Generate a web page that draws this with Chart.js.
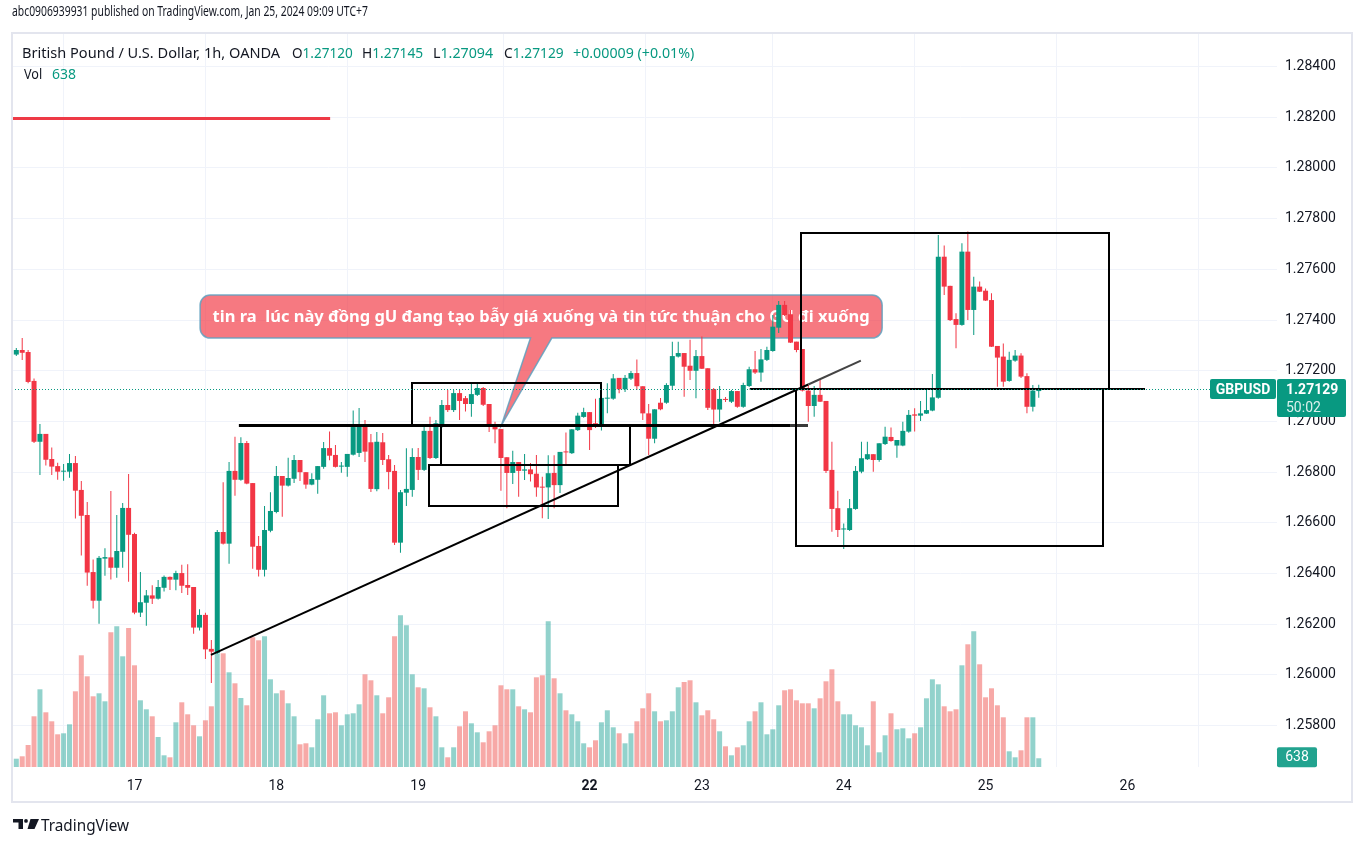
<!DOCTYPE html>
<html><head><meta charset="utf-8">
<script src="https://cdn.jsdelivr.net/npm/chart.js@4.4.1/dist/chart.umd.min.js"></script>
<style>
html,body{margin:0;padding:0;background:#fff;width:1364px;height:846px;overflow:hidden;}
#wrap{position:relative;width:1364px;height:846px;}
canvas{position:absolute;left:0;top:0;}
.t{position:absolute;white-space:nowrap;font-family:'Noto Sans','Liberation Sans',Arial,sans-serif;color:#131722;transform-origin:0 50%;line-height:1;font-size:14px;}
.g{color:#089981;}
#logo{position:absolute;left:13px;top:819px;}
</style></head><body>
<div id="wrap">
<canvas id="c" width="1364" height="846"></canvas>
<div class="t" data-w="356" style="left:12px;top:4px;">abc0906939931 published on TradingView.com, Jan 25, 2024 09:09 UTC+7</div>
<div class="t" data-w="258" style="left:22px;top:46px;">British Pound / U.S. Dollar, 1h, OANDA</div>
<div class="t" data-w="61" style="left:292px;top:46px;">O<span class="g">1.27120</span></div>
<div class="t" data-w="61" style="left:362px;top:46px;">H<span class="g">1.27145</span></div>
<div class="t" data-w="60" style="left:433px;top:46px;">L<span class="g">1.27094</span></div>
<div class="t" data-w="60" style="left:504px;top:46px;">C<span class="g">1.27129</span></div>
<div class="t g" data-w="121" style="left:573px;top:46px;">+0.00009 (+0.01%)</div>
<div class="t" data-w="18" style="left:24px;top:67px;">Vol</div>
<div class="t g" data-w="24" style="left:52px;top:67px;">638</div>
<svg id="logo" width="26" height="10" viewBox="0 0 26 10"><path d="M0 0H10V10H5.5V3.6H0Z" fill="#131722"/><circle cx="13" cy="1.9" r="1.9" fill="#131722"/><path d="M17.5 0H26L21.5 10H14.5Z" fill="#131722"/></svg>
<div class="t" data-w="88" style="left:41px;top:817px;font-size:16px;">TradingView</div>
</div>
<script>
// ---------- data (GBPUSD 1h, OANDA) ----------
const dayTickIndex = [20, 44, 68, 97, 116, 140, 164, 188];
const dayTickLabel = ['17', '18', '19', '22', '23', '24', '25', '26'];
const priceTicks = [1.258, 1.260, 1.262, 1.264, 1.266, 1.268, 1.270, 1.272, 1.274, 1.276, 1.278, 1.280, 1.282, 1.284];

const opens = [
1.27264,1.27282,1.27274,1.27160,1.26920,1.26951,1.26852,1.26824,1.26802,1.26802,
1.26836,1.26730,1.26631,1.26406,1.26293,1.26459,1.26464,1.26423,1.26486,1.26659,
1.26556,1.26246,1.26285,1.26314,1.26301,1.26344,1.26387,1.26376,1.26402,1.26355,
1.26347,1.26187,1.26237,1.26103,1.26086,1.26564,1.26518,1.26805,1.26770,1.26915,
1.26757,1.26509,1.26415,1.26569,1.26643,1.26785,1.26747,1.26774,1.26848,1.26800,
1.26751,1.26770,1.26821,1.26895,1.26868,1.26822,1.26821,1.26869,1.26876,1.26982,
1.26918,1.26733,1.26918,1.26851,1.26805,1.26522,1.26719,1.26730,1.26860,1.26809,
1.26963,1.26856,1.26983,1.27065,1.27045,1.27112,1.27092,1.27069,1.27105,1.27132,
1.27069,1.26990,1.26970,1.26859,1.26797,1.26840,1.26806,1.26811,1.26794,1.26742,
1.26740,1.26797,1.26749,1.26881,1.26875,1.26966,1.27018,1.27037,1.26993,1.26986,
1.27090,1.27090,1.27172,1.27127,1.27169,1.27191,1.27139,1.27032,1.26932,1.27074,
1.27074,1.27141,1.27256,1.27270,1.27220,1.27200,1.27258,1.27210,1.27128,1.27047,
1.27089,1.27078,1.27120,1.27058,1.27140,1.27206,1.27193,1.27243,1.27278,1.27370,
1.27460,1.27423,1.27315,1.27286,1.27122,1.27061,1.27105,1.27081,1.26809,1.26658,
1.26574,1.26572,1.26655,1.26802,1.26851,1.26871,1.26848,1.26911,1.26939,1.26905,
1.26905,1.26960,1.27028,1.27023,1.27031,1.27043,1.27094,1.27650,1.27535,1.27404,
1.27381,1.27670,1.27440,1.27532,1.27516,1.27479,1.27298,1.27256,1.27160,1.27240,
1.27260,1.27179,1.27058,1.27120];

const highs = [
1.27290,1.27329,1.27282,1.27170,1.26990,1.26951,1.26897,1.26837,1.26832,1.26872,
1.26864,1.26765,1.26682,1.26456,1.26469,1.26500,1.26726,1.26631,1.26678,1.26793,
1.26561,1.26406,1.26335,1.26354,1.26375,1.26392,1.26388,1.26411,1.26435,1.26437,
1.26347,1.26259,1.26245,1.26138,1.26572,1.26760,1.26840,1.26940,1.26938,1.26923,
1.26757,1.26548,1.26667,1.26721,1.26824,1.26785,1.26857,1.26868,1.26848,1.26800,
1.26796,1.26824,1.26919,1.26960,1.26907,1.26840,1.26872,1.27043,1.27053,1.27006,
1.26951,1.26959,1.26955,1.26868,1.26828,1.26730,1.26894,1.26894,1.26895,1.26986,
1.27019,1.27006,1.27085,1.27124,1.27124,1.27124,1.27101,1.27148,1.27151,1.27136,
1.27069,1.26999,1.26970,1.26859,1.26885,1.26840,1.26872,1.26836,1.26868,1.26782,
1.26867,1.26867,1.26880,1.26957,1.26970,1.27034,1.27054,1.27037,1.27090,1.27093,
1.27151,1.27187,1.27172,1.27183,1.27199,1.27245,1.27139,1.27069,1.27048,1.27093,
1.27151,1.27315,1.27315,1.27270,1.27322,1.27282,1.27335,1.27210,1.27132,1.27140,
1.27097,1.27124,1.27120,1.27153,1.27216,1.27278,1.27286,1.27295,1.27420,1.27475,
1.27475,1.27440,1.27315,1.27286,1.27144,1.27140,1.27166,1.27081,1.26920,1.26727,
1.26598,1.26694,1.26824,1.26920,1.26920,1.26871,1.26914,1.26979,1.26976,1.26927,
1.26999,1.27045,1.27052,1.27081,1.27127,1.27187,1.27736,1.27694,1.27535,1.27427,
1.27703,1.27749,1.27571,1.27552,1.27525,1.27506,1.27298,1.27308,1.27275,1.27282,
1.27269,1.27190,1.27144,1.27145];

const lows = [
1.27258,1.27243,1.27151,1.26915,1.26789,1.26826,1.26789,1.26770,1.26766,1.26778,
1.26617,1.26471,1.26352,1.26262,1.26202,1.26391,1.26377,1.26384,1.26423,1.26368,
1.26240,1.26229,1.26194,1.26280,1.26298,1.26329,1.26335,1.26334,1.26323,1.26316,
1.26163,1.26175,1.26063,1.25968,1.26083,1.26515,1.26439,1.26707,1.26766,1.26752,
1.26419,1.26388,1.26388,1.26563,1.26638,1.26624,1.26744,1.26757,1.26765,1.26735,
1.26748,1.26715,1.26814,1.26847,1.26818,1.26798,1.26782,1.26866,1.26860,1.26840,
1.26722,1.26725,1.26828,1.26733,1.26513,1.26482,1.26667,1.26703,1.26769,1.26805,
1.26852,1.26852,1.26974,1.27037,1.27037,1.27006,1.27039,1.27019,1.27101,1.27061,
1.26959,1.26914,1.26727,1.26658,1.26753,1.26703,1.26769,1.26763,1.26703,1.26618,
1.26615,1.26658,1.26718,1.26824,1.26872,1.26962,1.27015,1.26888,1.26974,1.26964,
1.27032,1.27086,1.27111,1.27116,1.27164,1.27124,1.27006,1.26868,1.26914,1.27044,
1.27070,1.27124,1.27252,1.27098,1.27164,1.27092,1.27207,1.27045,1.26982,1.26999,
1.27077,1.27073,1.27054,1.27054,1.27136,1.27187,1.27157,1.27239,1.27275,1.27349,
1.27416,1.27310,1.27273,1.27118,1.26999,1.27019,1.27077,1.26797,1.26565,1.26544,
1.26497,1.26568,1.26652,1.26796,1.26848,1.26802,1.26841,1.26907,1.26920,1.26857,
1.26902,1.26956,1.26960,1.27002,1.27030,1.27040,1.27090,1.27499,1.27396,1.27289,
1.27378,1.27400,1.27341,1.27511,1.27475,1.27294,1.27137,1.27137,1.27157,1.27236,
1.27172,1.27032,1.27039,1.27094];

const closes = [
1.27282,1.27271,1.27156,1.26920,1.26951,1.26849,1.26822,1.26802,1.26805,1.26836,
1.26727,1.26628,1.26404,1.26293,1.26462,1.26465,1.26423,1.26489,1.26659,1.26553,
1.26246,1.26287,1.26314,1.26301,1.26347,1.26387,1.26376,1.26402,1.26352,1.26344,
1.26187,1.26237,1.26101,1.26092,1.26564,1.26518,1.26805,1.26770,1.26915,1.26755,
1.26506,1.26415,1.26572,1.26647,1.26785,1.26747,1.26777,1.26848,1.26800,1.26751,
1.26773,1.26824,1.26895,1.26865,1.26821,1.26826,1.26872,1.26978,1.26986,1.26881,
1.26734,1.26920,1.26848,1.26801,1.26522,1.26721,1.26734,1.26860,1.26809,1.26963,
1.26856,1.26993,1.27065,1.27045,1.27112,1.27081,1.27069,1.27108,1.27132,1.27066,
1.26986,1.26969,1.26856,1.26797,1.26840,1.26805,1.26811,1.26792,1.26740,1.26739,
1.26796,1.26749,1.26880,1.26878,1.26969,1.27023,1.27037,1.26966,1.26983,1.27093,
1.27094,1.27170,1.27127,1.27172,1.27191,1.27139,1.27032,1.26932,1.27048,1.27048,
1.27144,1.27258,1.27270,1.27216,1.27200,1.27258,1.27208,1.27054,1.27047,1.27089,
1.27085,1.27120,1.27058,1.27144,1.27206,1.27193,1.27245,1.27282,1.27374,1.27460,
1.27420,1.27311,1.27282,1.27122,1.27061,1.27105,1.27078,1.26805,1.26655,1.26572,
1.26577,1.26658,1.26805,1.26855,1.26871,1.26848,1.26914,1.26940,1.26923,1.26927,
1.26963,1.27026,1.27023,1.27032,1.27045,1.27095,1.27650,1.27532,1.27400,1.27381,
1.27670,1.27440,1.27532,1.27512,1.27477,1.27295,1.27252,1.27157,1.27243,1.27260,
1.27177,1.27058,1.27122,1.27129];

const volumes = [
606,781,1606,3701,5672,3993,3336,2387,2460,3117,
5526,8154,6621,5161,5380,4796,9833,10271,8081,10147,
7424,4869,4212,3701,2190,854,708,3263,4723,3847,
3044,2241,3409,4431,8271,8300,6913,6110,5037,4504,
9468,9249,9541,6402,5380,5599,4650,3701,1657,1730,
1438,3482,5234,3920,3993,3044,3847,3920,4577,6767,
6329,5234,3920,5088,9541,11074,10344,6767,5818,5745,
4358,3701,1438,708,1438,2971,4066,3190,2533,1803,
2606,3044,5964,5672,5672,4431,4212,3993,6548,6694,
10636,6475,5380,4139,3847,3336,1730,1438,1949,3263,
4139,2898,2460,1730,2460,3336,4285,5380,4066,3336,
3409,4066,5818,6205,6329,4723,3774,4139,3482,2606,
1511,854,1438,1584,3336,4066,4723,2387,2752,4504,
5599,5672,4869,4650,4650,4285,5015,6256,7132,4796,
3847,3847,3044,2898,1584,4796,1073,2314,3920,2752,
2825,2095,2460,2898,5015,6402,6037,4431,4066,4212,
7424,8957,9906,7497,5088,5745,4504,3628,1146,708,
1219,3628,3628,638];

const symbolName = 'GBPUSD';
const lastPrice = 1.27129;
const barCountdown = '50:02';

// drawings, in data coordinates (bar index, price)
const redLine = [-0.73, 53.1, 1.28197];
const supportLine = [37.66, 133.96, 1.26985];
const rangeLine = [124.1, 190.98, 1.27128];
const rectangles = [
  [66.9, 98.9, 1.27151, 1.26986],
  [71.8, 103.9, 1.26986, 1.26830],
  [69.8, 101.8, 1.26830, 1.26668],
  [132.8, 184.9, 1.27745, 1.27127],
  [131.9, 183.8, 1.27127, 1.26510]
];
const trendLine = [32.94, 1.26079, 142.9, 1.27240];
const calloutBox = [31.1, 146.5, 1.27499, 1.27329];
const calloutTip = [82.1, 1.26986];
const calloutBase = [87.0, 90.6];
const calloutText = 'tin ra  lúc này đồng gU đang tạo bẫy giá xuống và tin tức thuận cho GU đi xuống';

// ---------- header text fitting ----------
document.querySelectorAll('.t[data-w]').forEach(el => {
  const w = el.offsetWidth;
  const target = parseFloat(el.dataset.w);
  if (w > 0) el.style.transform = 'scaleX(' + (target / w) + ')';
});

// ---------- chart ----------
const UP = '#089981', DN = '#f23645';
const VUP = 'rgba(38,166,154,0.5)', VDN = 'rgba(239,83,80,0.5)';
const idx = opens.map((_, i) => i);
const isUp = idx.map(i => closes[i] >= opens[i]);

function P(chart) {
  const xs = chart.scales.x, ys = chart.scales.y;
  return { X: v => xs.getPixelForValue(v), Y: v => ys.getPixelForValue(v) };
}
function seg(ctx, x0, y0, x1, y1, color, w) {
  ctx.beginPath(); ctx.strokeStyle = color; ctx.lineWidth = w;
  ctx.moveTo(x0, y0); ctx.lineTo(x1, y1); ctx.stroke();
}
function rr(ctx, x, y, w, h, r) {
  ctx.beginPath();
  ctx.moveTo(x + r, y); ctx.lineTo(x + w - r, y); ctx.arcTo(x + w, y, x + w, y + r, r);
  ctx.lineTo(x + w, y + h - r); ctx.arcTo(x + w, y + h, x + w - r, y + h, r);
  ctx.lineTo(x + r, y + h); ctx.arcTo(x, y + h, x, y + h - r, r);
  ctx.lineTo(x, y + r); ctx.arcTo(x, y, x + r, y, r); ctx.closePath();
}

const overlay = {
  id: 'overlay',
  beforeDatasetsDraw(chart) {
    const ctx = chart.ctx; const { X, Y } = P(chart);
    const l = X(calloutBox[0]), r = X(calloutBox[1]), t = Y(calloutBox[2]), b = Y(calloutBox[3]);
    const rad = 10;
    const tx = X(calloutTip[0]), ty = Y(calloutTip[1]);
    const b0 = X(calloutBase[0]), b1 = X(calloutBase[1]);
    ctx.save();
    ctx.beginPath();
    ctx.moveTo(l + rad, t); ctx.lineTo(r - rad, t); ctx.arcTo(r, t, r, t + rad, rad);
    ctx.lineTo(r, b - rad); ctx.arcTo(r, b, r - rad, b, rad);
    ctx.lineTo(b1, b); ctx.lineTo(tx, ty); ctx.lineTo(b0, b);
    ctx.lineTo(l + rad, b); ctx.arcTo(l, b, l, b - rad, rad);
    ctx.lineTo(l, t + rad); ctx.arcTo(l, t, l + rad, t, rad); ctx.closePath();
    ctx.fillStyle = 'rgba(242,58,70,0.68)'; ctx.fill();
    ctx.lineWidth = 1.5; ctx.strokeStyle = 'rgba(95,160,190,0.85)'; ctx.stroke();
    ctx.font = 'bold 16px "Noto Sans", "Liberation Sans", sans-serif';
    const w = ctx.measureText(calloutText).width;
    const sx = 657 / w;
    ctx.translate((l + r) / 2, (t + b) / 2 + 1); ctx.scale(sx, 1);
    ctx.fillStyle = '#ffffff'; ctx.textAlign = 'center'; ctx.textBaseline = 'middle';
    ctx.fillText(calloutText, 0, 0);
    ctx.restore();
  },
  afterDatasetsDraw(chart) {
    const ctx = chart.ctx; const ca = chart.chartArea; const { X, Y } = P(chart);
    ctx.save();
    // red line
    let y = Math.round(Y(redLine[2])) + 0.5;
    seg(ctx, X(redLine[0]), y, X(redLine[1]), y, '#ee3a46', 3);
    // support line
    y = Math.round(Y(supportLine[2])) + 0.5;
    seg(ctx, X(supportLine[0]), y, X(supportLine[1]) - 18, y, '#000', 3);
    seg(ctx, X(supportLine[1]) - 18, y, X(supportLine[1]), y, '#3a3a3a', 3);
    // rectangles
    rectangles.forEach(rc => {
      const x0 = Math.round(X(rc[0])), x1 = Math.round(X(rc[1]));
      const y0 = Math.round(Y(rc[2])), y1 = Math.round(Y(rc[3]));
      ctx.beginPath(); ctx.strokeStyle = '#000'; ctx.lineWidth = 2;
      ctx.rect(x0, y0, x1 - x0, y1 - y0); ctx.stroke();
    });
    // horizontal range line
    y = Math.round(Y(rangeLine[2]));
    seg(ctx, X(rangeLine[0]), y, X(rangeLine[1]), y, '#000', 2);
    // trend line
    const tx0 = X(trendLine[0]), ty0 = Y(trendLine[1]), tx1 = X(trendLine[2]), ty1 = Y(trendLine[3]);
    const splitX = X(134);
    const splitY = ty0 + (ty1 - ty0) * (splitX - tx0) / (tx1 - tx0);
    seg(ctx, tx0, ty0, splitX, splitY, '#000', 2);
    seg(ctx, splitX, splitY, tx1, ty1, '#444', 2);
    // price line (dotted)
    const py = Math.round(Y(lastPrice)) + 0.5;
    ctx.setLineDash([1, 2]);
    seg(ctx, ca.left, py, ca.right - 67, py, UP, 1);
    ctx.setLineDash([]);
    // symbol label
    ctx.fillStyle = UP;
    rr(ctx, ca.right - 67, py - 10.5, 66, 20, 2); ctx.fill();
    ctx.fillStyle = '#fff'; ctx.font = 'bold 14px Roboto, sans-serif';
    ctx.textAlign = 'center'; ctx.textBaseline = 'middle';
    ctx.fillText(symbolName, ca.right - 34, py + 0.5);
    // price box
    ctx.fillStyle = UP;
    rr(ctx, ca.right, py - 10.5, 69, 38, 2); ctx.fill();
    ctx.fillStyle = '#fff'; ctx.textAlign = 'left';
    ctx.font = 'bold 14px Roboto, sans-serif';
    ctx.fillText(lastPrice.toFixed(5), ca.right + 9, py + 0.5);
    ctx.font = '14px Roboto, sans-serif'; ctx.fillStyle = 'rgba(255,255,255,0.85)';
    ctx.fillText(barCountdown, ca.right + 9, py + 18.5);
    // volume label
    const vy = chart.scales.yv.getPixelForValue(volumes[volumes.length - 1]);
    ctx.fillStyle = '#22a38f';
    rr(ctx, ca.right, vy - 11, 40, 20, 2); ctx.fill();
    ctx.fillStyle = '#fff'; ctx.font = '14px Roboto, sans-serif'; ctx.textAlign = 'center';
    ctx.fillText(String(volumes[volumes.length - 1]), ca.right + 20, vy - 0.5);
    ctx.restore();
  },
  afterDraw(chart) {
    const ctx = chart.ctx;
    ctx.save();
    ctx.strokeStyle = '#e3e5ee'; ctx.lineWidth = 2;
    ctx.beginPath();
    ctx.moveTo(12, 33); ctx.lineTo(1352, 33); ctx.lineTo(1352, 802); ctx.lineTo(12, 802); ctx.closePath();
    ctx.stroke();
    ctx.restore();
  }
};

new Chart(document.getElementById('c'), {
  type: 'bar',
  data: {
    datasets: [
      {
        label: 'Body', yAxisID: 'y', order: 1, grouped: false,
        data: idx.map(i => ({ x: i, y: [opens[i], closes[i]] })),
        backgroundColor: isUp.map(u => u ? UP : DN),
        barThickness: 5, minBarLength: 1, borderWidth: 0, inflateAmount: 0
      },
      {
        label: 'Wick', yAxisID: 'y', order: 2, grouped: false,
        data: idx.map(i => ({ x: i, y: [lows[i], highs[i]] })),
        backgroundColor: isUp.map(u => u ? UP : DN),
        barThickness: 1, borderWidth: 0, inflateAmount: 0
      },
      {
        label: 'Volume', yAxisID: 'yv', order: 3, grouped: false,
        data: idx.map(i => ({ x: i, y: volumes[i] })),
        backgroundColor: isUp.map(u => u ? VUP : VDN),
        barThickness: 5, borderWidth: 0, inflateAmount: 0
      }
    ]
  },
  options: {
    responsive: false, animation: false, devicePixelRatio: 1,
    layout: { padding: { left: 12, top: 33, right: 0, bottom: 0 } },
    plugins: { legend: { display: false }, tooltip: { enabled: false } },
    scales: {
      x: {
        type: 'linear', min: -0.7276, max: 213.31, offset: false,
        afterBuildTicks: s => { s.ticks = dayTickIndex.map(v => ({ value: v })); },
        afterFit: s => { s.height = 79; },
        grid: { color: '#f0f3fa', drawTicks: false }, border: { display: false },
        ticks: {
          autoSkip: false, maxRotation: 0, padding: 11, color: '#131722',
          font: c => ({ family: 'Roboto', size: 14, weight: dayTickLabel[c.index] === '22' ? 'bold' : 'normal' }),
          callback: (v, i) => dayTickLabel[i]
        }
      },
      y: {
        type: 'linear', position: 'right', min: 1.25637, max: 1.285325,
        afterBuildTicks: s => { s.ticks = priceTicks.map(v => ({ value: v })); },
        afterFit: s => { s.width = 87; },
        grid: { color: '#f0f3fa', drawTicks: false }, border: { display: false },
        ticks: { padding: 8, color: '#131722', font: { family: 'Roboto', size: 14 }, callback: v => Number(v).toFixed(5) }
      },
      yv: { type: 'linear', display: false, min: 0, max: 53582 }
    }
  },
  plugins: [overlay]
});
</script>
</body></html>
